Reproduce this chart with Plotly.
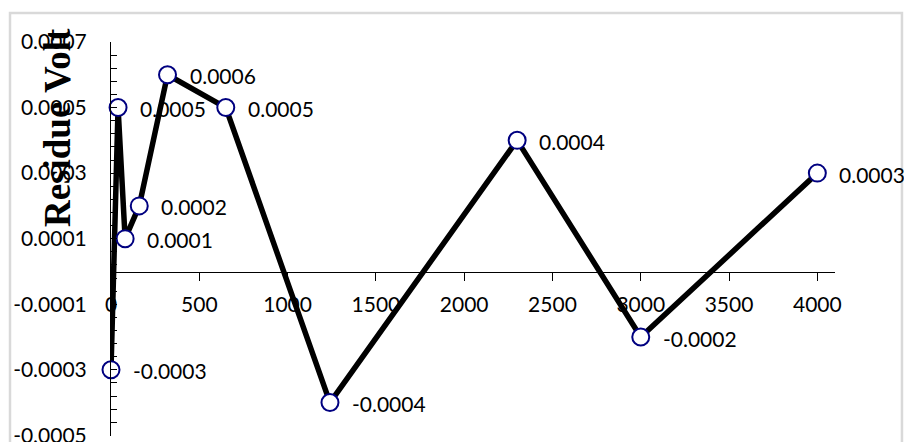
import plotly.graph_objects as go

# frequency (x) vs residue volt (y)
freq = [0, 40, 80, 160, 320, 650, 1240, 2300, 3000, 4000]
residue = [-0.0003, 0.0005, 0.0001, 0.0002, 0.0006, 0.0005, -0.0004, 0.0004, -0.0002, 0.0003]
point_labels = ['-0.0003', '0.0005', '0.0001', '0.0002', '0.0006', '0.0005',
                '-0.0004', '0.0004', '-0.0002', '0.0003']

x_ticks = [0, 500, 1000, 1500, 2000, 2500, 3000, 3500, 4000]
y_ticks = [-0.0005, -0.0003, -0.0001, 0.0001, 0.0003, 0.0005, 0.0007]
y_tick_text = ['-0.0005', '-0.0003', '-0.0001', '0.0001', '0.0003', '0.0005', '0.0007']

label_font = dict(family='Lato, Open Sans, sans-serif', size=21, color='black')

fig = go.Figure()
fig.add_trace(go.Scatter(
    x=freq, y=residue, mode='lines+markers', cliponaxis=False,
    line=dict(color='black', width=5.5),
    marker=dict(size=17, color='white', line=dict(color='#000080', width=2)),
    hoverinfo='skip', showlegend=False,
))

for xv, yv, txt in zip(freq, residue, point_labels):
    fig.add_annotation(x=xv, y=yv, text=txt, showarrow=False,
                       xanchor='left', yanchor='middle', xshift=20, yshift=-1,
                       font=label_font)

# y axis title, overlapping the tick labels as in the original
fig.add_annotation(xref='paper', yref='paper', x=-0.073, y=0.782,
                   xanchor='center', yanchor='middle',
                   text='<b>Residue Volt</b>', textangle=-90, showarrow=False,
                   font=dict(family='Liberation Serif, Times New Roman, serif', size=37, color='black'))

# light grey frame around the chart
fig.add_shape(type='rect', xref='paper', yref='paper',
              x0=-0.1395, x1=1.0925, y0=-0.05, y1=1.0736,
              line=dict(color='#d9d9d9', width=2.5), fillcolor='rgba(0,0,0,0)', layer='below')

fig.update_layout(
    width=904, height=442,
    margin=dict(l=111, r=69, t=42, b=6),
    paper_bgcolor='white', plot_bgcolor='white',
    font=label_font,
    xaxis=dict(
        range=[0, 4100], tickvals=x_ticks, anchor='free', position=(0.0005) / 0.0012,
        showline=True, linecolor='black', linewidth=1,
        ticks='outside', ticklen=8, tickcolor='black', tickwidth=1,
        showgrid=False, zeroline=False, ticklabelstandoff=6, automargin=False,
        tickfont=label_font,
    ),
    yaxis=dict(
        range=[-0.000502, 0.0007], tickvals=y_ticks, ticktext=y_tick_text,
        showline=True, linecolor='black', linewidth=1,
        ticks='inside', ticklen=6, tickcolor='black', tickwidth=1,
        minor=dict(tick0=-0.0005, dtick=0.00004, ticks='inside', ticklen=6,
                   tickcolor='black', tickwidth=1, showgrid=False),
        showgrid=False, zeroline=False, ticklabelstandoff=19, automargin=False,
        ticklabeloverflow='allow', tickfont=label_font,
    ),
)

# the page body has a default margin; drop it so the chart sits at the window corner
fig.write_html("out.html", config={'displayModeBar': False},
               post_script="document.body.style.margin = '0';")
